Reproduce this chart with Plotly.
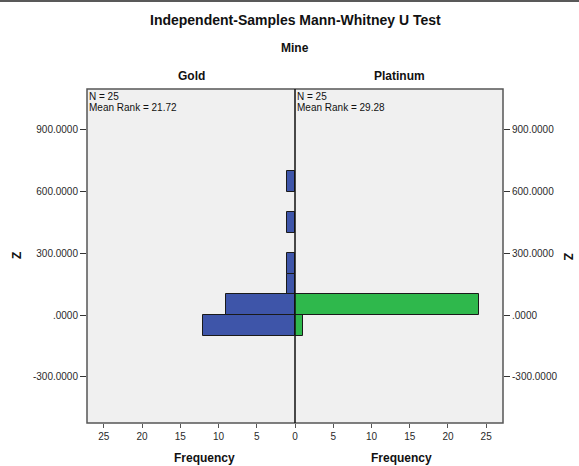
import plotly.graph_objects as go

# Data
bin_centers = [-50, 50, 150, 250, 450, 650]
gold_counts = [12, 9, 1, 1, 1, 1]
plat_centers = [-50, 50]
plat_counts = [1, 24]
bin_width = 100
y_tickvals = [900, 600, 300, 0, -300]
y_ticktext = ["900.0000", "600.0000", "300.0000", ".0000", "-300.0000"]
x_ticks = [0, 5, 10, 15, 20, 25]
groups = ["Gold", "Platinum"]
n_vals = [25, 25]
mean_ranks = [21.72, 29.28]

FONT = "Liberation Sans, Arial, sans-serif"
W, H = 579, 466
L, R, T, B = 87, 76, 89, 43

fig = go.Figure()
fig.add_trace(go.Bar(y=bin_centers, x=gold_counts, orientation="h", width=bin_width,
                     marker=dict(color="#3E55A9", line=dict(color="#1a1a1a", width=1)),
                     xaxis="x", yaxis="y", showlegend=False))
fig.add_trace(go.Bar(y=plat_centers, x=plat_counts, orientation="h", width=bin_width,
                     marker=dict(color="#2FB84C", line=dict(color="#1a1a1a", width=1)),
                     xaxis="x2", yaxis="y2", showlegend=False))

xr = 27.2
yr = [-525, 1099]
tickfont = dict(family=FONT, size=10, color="#2a2a2a")
fig.update_layout(
    width=W, height=H,
    margin=dict(l=L, r=R, t=T, b=B),
    paper_bgcolor="white", plot_bgcolor="#F0F0F0",
    bargap=0,
    xaxis=dict(domain=[0, 0.5], range=[xr, 0], tickvals=x_ticks,
               ticktext=[str(v) if v != 0 else "" for v in x_ticks],
               ticks="outside", ticklen=4, tickcolor="#555", showgrid=False, zeroline=False,
               tickfont=tickfont, showline=False, anchor="y"),
    xaxis2=dict(domain=[0.5, 1], range=[0, xr], tickvals=x_ticks,
                ticktext=[str(v) for v in x_ticks],
                ticks="outside", ticklen=4, tickcolor="#555", showgrid=False, zeroline=False,
                tickfont=tickfont, showline=False, anchor="y2"),
    yaxis=dict(range=yr, tickvals=y_tickvals, ticktext=y_ticktext, ticks="outside",
               ticklen=6, tickcolor="#333", showgrid=False, zeroline=False,
               tickfont=tickfont, anchor="x"),
    yaxis2=dict(range=yr, tickvals=y_tickvals, ticktext=y_ticktext, ticks="outside",
                ticklen=6, tickcolor="#333", showgrid=False, zeroline=False,
                tickfont=tickfont, anchor="x2", side="right", matches="y"),
)

# frame and centre line
fig.add_shape(type="rect", xref="paper", yref="paper", x0=0, x1=1, y0=0, y1=1,
              line=dict(color="#555555", width=1.5))
fig.add_shape(type="line", xref="paper", yref="paper", x0=0.5, x1=0.5, y0=0, y1=1,
              line=dict(color="#111111", width=1.5))
# top border line of image
ph = H - T - B
pw = W - L - R
fig.add_shape(type="line", xref="paper", yref="paper", x0=-L / pw, x1=1 + R / pw,
              y0=1 + (T - 1) / ph, y1=1 + (T - 1) / ph, line=dict(color="#222", width=1.5))

def py(pix):
    return 1 - (pix - T) / ph

def px(pix):
    return (pix - L) / pw

ann = []
ann.append(dict(text="<b>Independent-Samples Mann-Whitney U Test</b>", x=0.5, y=py(20),
                font=dict(family=FONT, size=14, color="#111")))
ann.append(dict(text="<b>Mine</b>", x=0.5, y=py(48), font=dict(family=FONT, size=12, color="#111")))
ann.append(dict(text="<b>%s</b>" % groups[0], x=0.25, y=py(76), font=dict(family=FONT, size=12, color="#111")))
ann.append(dict(text="<b>%s</b>" % groups[1], x=0.75, y=py(76), font=dict(family=FONT, size=12, color="#111")))
ann.append(dict(text="<b>Frequency</b>", x=0.283, y=py(458), font=dict(family=FONT, size=12, color="#111")))
ann.append(dict(text="<b>Frequency</b>", x=0.755, y=py(458), font=dict(family=FONT, size=12, color="#111")))
ann.append(dict(text="<b>Z</b>", x=px(17), y=py(256), textangle=-90,
                font=dict(family=FONT, size=12, color="#111")))
ann.append(dict(text="<b>Z</b>", x=px(568), y=py(256), textangle=90,
                font=dict(family=FONT, size=12, color="#111")))
for i, (n, mr) in enumerate(zip(n_vals, mean_ranks)):
    x0 = px(88) + 0.5 * i
    ann.append(dict(text="N = %d" % n, x=x0, y=py(96.5), xanchor="left",
                    font=dict(family=FONT, size=10, color="#111")))
    ann.append(dict(text="Mean Rank = %.2f" % mr, x=x0, y=py(107.5), xanchor="left",
                    font=dict(family=FONT, size=10, color="#111")))
for a in ann:
    a.setdefault("xref", "paper")
    a.setdefault("yref", "paper")
    a.setdefault("showarrow", False)
    a.setdefault("xanchor", "center")
    a.setdefault("yanchor", "middle")
    a.setdefault("borderpad", 0)
fig.update_layout(annotations=ann)

fig.write_html("out.html", config={"displayModeBar": False},
               post_script="document.body.style.margin='0';document.body.style.overflow='hidden';")
